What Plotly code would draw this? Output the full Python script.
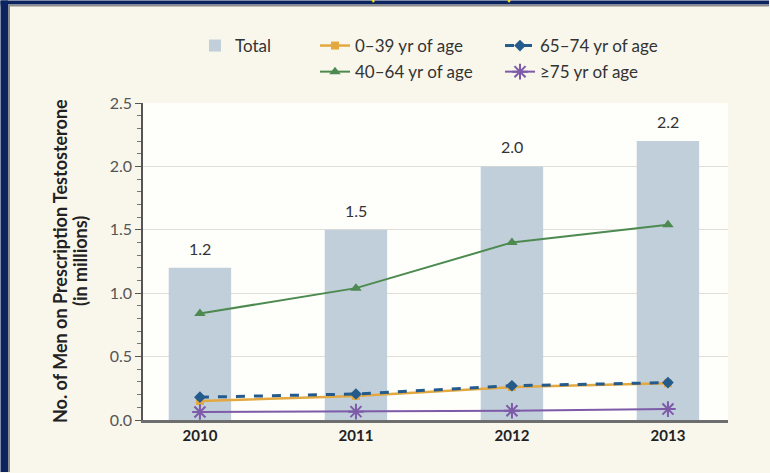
import plotly.graph_objects as go

# Men on prescription testosterone, in millions
years = ["2010", "2011", "2012", "2013"]
total = [1.2, 1.5, 2.0, 2.2]
age_0_39 = [0.15, 0.19, 0.26, 0.29]
age_40_64 = [0.84, 1.04, 1.40, 1.54]
age_65_74 = [0.18, 0.205, 0.27, 0.295]
age_75_up = [0.063, 0.066, 0.073, 0.086]
y_ticks = [0.0, 0.5, 1.0, 1.5, 2.0, 2.5]

FONT = "Lato"
NAVY = "#0b2461"
CREAM = "#f9f7ec"

# plot area in pixels: left 143, right 728, top 103, bottom 420
L, R, T, B = 143, 728, 103, 420


def px_x(p):
    return (p - L) / (R - L)


def px_y(p):
    return (B - p) / (B - T)


fig = go.Figure()

fig.add_trace(go.Bar(
    x=years, y=total, name="Total", width=0.40,
    marker=dict(color="#c1cfdb", line=dict(width=0)),
    legend="legend", legendgroup="total", hoverinfo="skip",
))
fig.add_trace(go.Scatter(
    x=years, y=age_0_39, name="0\u201339 yr of age", mode="lines+markers",
    line=dict(color="#e3a83f", width=2.5),
    marker=dict(symbol="square", size=8, color="#e3a83f"),
    legend="legend2", legendgroup="a",
))
fig.add_trace(go.Scatter(
    x=years, y=age_40_64, name="40\u201364 yr of age", mode="lines+markers",
    line=dict(color="#4c8a4f", width=2),
    marker=dict(symbol="triangle-up", size=10, color="#4c8a4f"),
    legend="legend2", legendgroup="b",
))
fig.add_trace(go.Scatter(
    x=years, y=age_65_74, name="65\u201374 yr of age", mode="lines+markers",
    line=dict(color="#245b8c", width=3, dash="dash"),
    marker=dict(symbol="diamond", size=9, color="#245b8c"),
    legend="legend3", legendgroup="c",
))
fig.add_trace(go.Scatter(
    x=years, y=age_75_up, name="\u226575 yr of age", mode="lines+markers",
    line=dict(color="#7d5ba8", width=2),
    marker=dict(symbol="asterisk-open", size=13, color="#7d5ba8",
                line=dict(color="#7d5ba8", width=2)),
    legend="legend3", legendgroup="d",
))

# value labels above the bars (category index positions)
for i, v in enumerate(total):
    fig.add_annotation(x=i, y=v, text=f"{v:.1f}", showarrow=False,
                       yanchor="bottom", yshift=8,
                       font=dict(family=FONT, size=16, color="#333333"))

# y-axis title, two rotated lines
for xp, line in [(60, "No. of Men on Prescription Testosterone"), (80, "(in millions)")]:
    fig.add_annotation(
        xref="paper", yref="paper", x=px_x(xp), y=px_y(261),
        xanchor="center", yanchor="middle",
        text=f"<b>{line}</b>", textangle=-90, showarrow=False,
        font=dict(family=FONT, size=18, color="#222222"),
    )

# yellow heading glyphs just peeking below the top edge
for xp, ch in [(372, "("), (510, ")")]:
    fig.add_annotation(
        xref="paper", yref="paper", x=px_x(xp), y=px_y(6),
        xanchor="center", yanchor="bottom", text=f"<b>{ch}</b>", showarrow=False,
        font=dict(family=FONT, size=22, color="#f2e600"),
    )

legend_common = dict(
    xanchor="left", yanchor="top",
    orientation="v", bgcolor="rgba(0,0,0,0)", borderwidth=0,
    font=dict(family=FONT, size=17, color="#333333"),
    traceorder="grouped", tracegroupgap=1,
)

fig.update_layout(
    width=770, height=473,
    margin=dict(l=L, r=770 - R, t=T, b=473 - B, autoexpand=False),
    paper_bgcolor=CREAM,
    plot_bgcolor="#fefefb",
    showlegend=True,
    legend=dict(x=px_x(195), y=px_y(28), **legend_common),
    legend2=dict(x=px_x(315), y=px_y(28), **legend_common),
    legend3=dict(x=px_x(500), y=px_y(28), **legend_common),
    xaxis=dict(
        type="category", range=[-0.365, 3.385],
        showline=True, linecolor="#6e6e6e", linewidth=2.5,
        ticks="", showgrid=False,
        tickfont=dict(family=FONT, size=15, color="#222222", weight="bold"),
    ),
    yaxis=dict(
        range=[0, 2.5], tickvals=y_ticks, ticktext=[f"{t:.1f}" for t in y_ticks],
        showline=True, linecolor="#555555", linewidth=1.5,
        ticks="outside", ticklen=6, tickcolor="#555555", tickwidth=1.2,
        minor=dict(dtick=0.1, ticks="outside", ticklen=4, tickcolor="#777777",
                   tickwidth=1, showgrid=False),
        showgrid=True, gridcolor="#e0ded6", gridwidth=1,
        zeroline=False,
        tickfont=dict(family=FONT, size=16, color="#555555"),
    ),
)

# dark frame along the top and left edges, kept inside the canvas
frame = [
    (0.5, 0.5, 769, 4.5, NAVY),
    (0.5, 4.5, 769, 6.5, "#8c8c8c"),
    (0.5, 0.5, 8, 472, NAVY),
    (8, 4.5, 10, 472, "#8c8c8c"),
]
for x0, y0, x1, y1, c in frame:
    fig.add_shape(type="rect", xref="paper", yref="paper",
                  x0=px_x(x0), y0=px_y(y0), x1=px_x(x1), y1=px_y(y1),
                  fillcolor=c, line=dict(width=0), layer="above")

fig.write_html("out.html")
